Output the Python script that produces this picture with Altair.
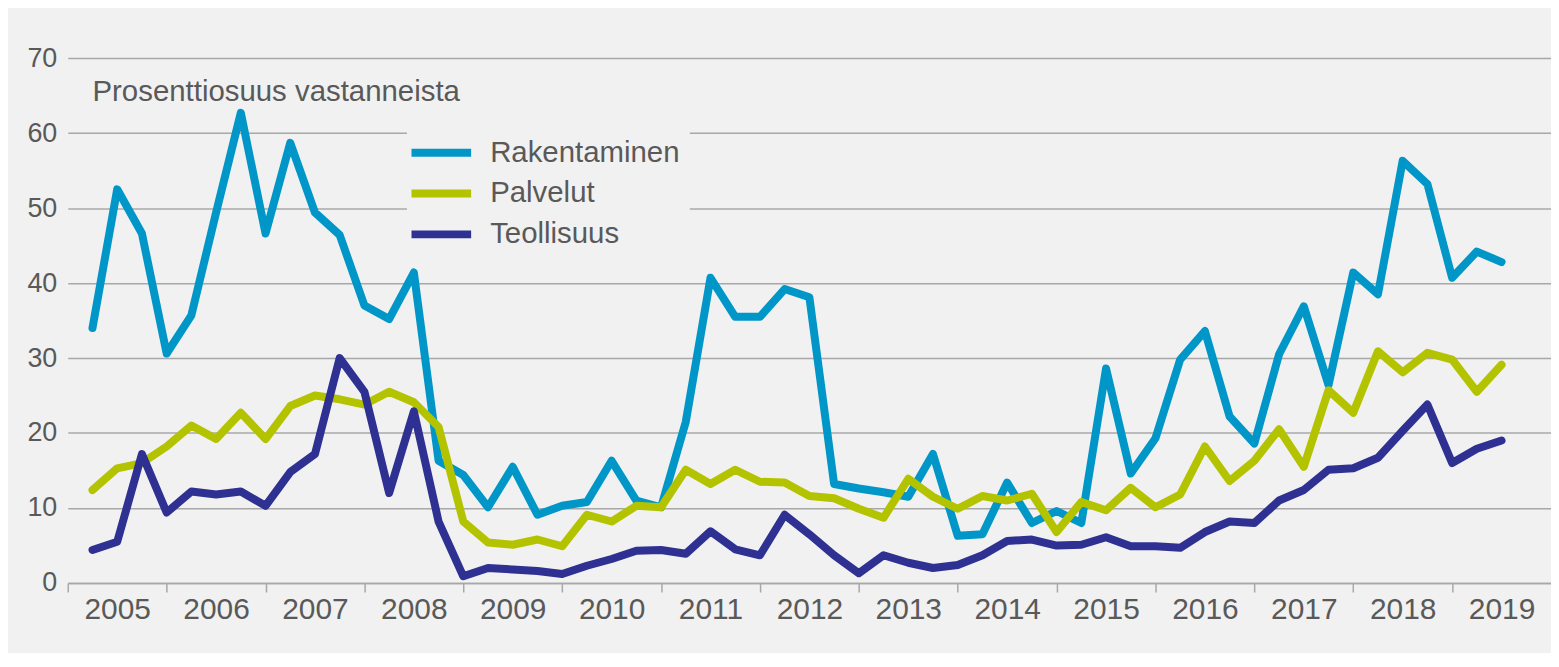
import altair as alt
import pandas as pd

series_names = ["Rakentaminen", "Palvelut", "Teollisuus"]
series_colors = ["#0096c8", "#b4c300", "#2e3192"]

rakentaminen = [34.0, 52.5, 46.6, 30.6, 35.7, 49.4, 62.7, 46.6, 58.7, 49.4, 46.4, 37.0,
                35.2, 41.4, 16.3, 14.4, 10.1, 15.5, 9.1, 10.3, 10.8, 16.3, 11.0, 10.1,
                21.5, 40.7, 35.5, 35.5, 39.2, 38.1, 13.2, 12.6, 12.1, 11.5, 17.2, 6.3,
                6.5, 13.4, 8.0, 9.6, 8.0, 28.6, 14.6, 19.3, 29.8, 33.6, 22.2, 18.6,
                30.5, 36.9, 26.4, 41.4, 38.5, 56.3, 53.2, 40.7, 44.2, 42.8]
palvelut = [12.4, 15.3, 16.0, 18.2, 21.0, 19.2, 22.7, 19.2, 23.6, 25.0, 24.5, 23.8,
            25.5, 24.1, 20.8, 8.2, 5.4, 5.1, 5.8, 4.9, 9.1, 8.2, 10.3, 10.1,
            15.1, 13.2, 15.1, 13.5, 13.4, 11.6, 11.3, 9.9, 8.7, 13.9, 11.5, 9.9,
            11.6, 11.0, 11.9, 6.8, 10.8, 9.7, 12.7, 10.1, 11.8, 18.2, 13.6, 16.3,
            20.5, 15.5, 25.7, 22.7, 30.9, 28.1, 30.7, 29.8, 25.5, 29.1]
teollisuus = [4.4, 5.5, 17.2, 9.4, 12.2, 11.8, 12.2, 10.3, 14.8, 17.2, 30.0, 25.5,
              12.0, 22.9, 8.2, 0.9, 2.0, 1.8, 1.6, 1.2, 2.3, 3.2, 4.3, 4.4,
              3.9, 6.9, 4.5, 3.7, 9.1, 6.5, 3.7, 1.3, 3.7, 2.7, 2.0, 2.4,
              3.7, 5.6, 5.8, 5.0, 5.1, 6.1, 4.9, 4.9, 4.7, 6.8, 8.2, 8.0,
              11.0, 12.4, 15.1, 15.3, 16.7, 20.3, 23.8, 16.0, 17.9, 19.0]

# quarter-end positions: 2005 Q1 .. 2019 Q2
quarters = [2005 + k / 4 for k in range(1, 59)]
year_ticks = list(range(2005, 2020))
y_ticks = [0, 10, 20, 30, 40, 50, 60, 70]
subtitle = ["Prosenttiosuus vastanneista"]

rows = []
for name, vals in zip(series_names, [rakentaminen, palvelut, teollisuus]):
    for t, v in zip(quarters, vals):
        rows.append({"t": t, "value": v, "sarja": name})
df = pd.DataFrame(rows)

BG = "#f1f1f1"
TXT = "#595959"
GRID = "#a8a8a8"
W = 1489
H = 527

x_scale = alt.Scale(domain=[2005, 2020], nice=False, zero=False)
y_scale = alt.Scale(domain=[0, 70], nice=False)

lines = alt.Chart(df).mark_line(strokeWidth=8, strokeJoin="round", strokeCap="round").encode(
    x=alt.X("t:Q", scale=x_scale,
            axis=alt.Axis(values=year_ticks, format="d", title=None, grid=False,
                          labelOffset=W / 15 / 2, labelFontSize=30, labelColor=TXT,
                          labelPadding=3, tickSize=9, tickColor=GRID, tickWidth=1.5,
                          domainColor=GRID, domainWidth=1.5, labelFlush=False,
                          labelOverlap=False)),
    y=alt.Y("value:Q", scale=y_scale,
            axis=alt.Axis(values=y_ticks, title=None, domain=False, ticks=False,
                          grid=True, gridColor=GRID, gridWidth=1.5,
                          labelFontSize=27, labelColor=TXT, labelPadding=11)),
    color=alt.Color("sarja:N",
                    scale=alt.Scale(domain=series_names, range=series_colors),
                    sort=series_names,
                    legend=alt.Legend(title=None, orient="none", legendX=340.5, legendY=60.5,
                                      direction="vertical",
                                      symbolType="M-1.46,0H1.46",
                                      symbolSize=1681, symbolStrokeWidth=8,
                                      symbolFillColor="transparent",
                                      labelFontSize=29.5, labelColor=TXT, labelOffset=24.5,
                                      labelLimit=500, rowPadding=0, padding=10,
                                      fillColor=BG)),
    order=alt.Order("t:Q"),
)

label = alt.Chart(pd.DataFrame({"txt": subtitle})).mark_text(
    align="left", baseline="middle", fontSize=29.5, color=TXT
).encode(
    x=alt.datum(2005.25),
    y=alt.datum(65.5),
    text="txt:N",
)

chart = alt.layer(lines, label).properties(
    width=W, height=H,
    background=BG,
    autosize=alt.AutoSizeParams(type="none"),
    padding={"left": 60, "top": 49, "right": 0, "bottom": 69},
).configure(font="Liberation Sans").configure_view(stroke=None)

chart.save("out.html", embed_options={"renderer": "svg", "actions": False})
